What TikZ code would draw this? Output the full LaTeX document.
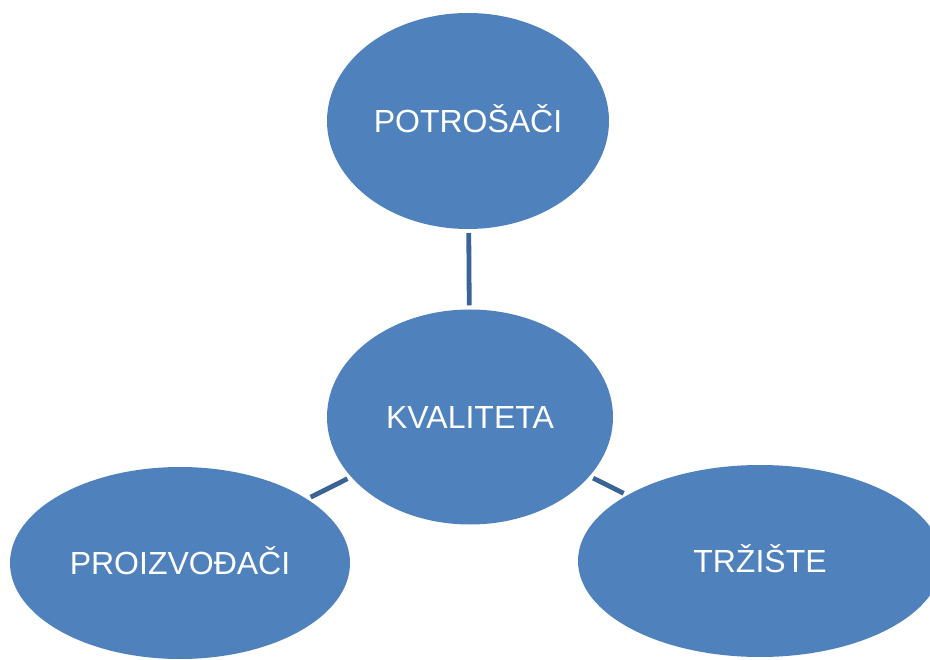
\documentclass[tikz,border=0pt]{standalone}
\usepackage{fontspec}
\setmainfont{Liberation Sans}
\usetikzlibrary{shapes.geometric}
\definecolor{bubblefill}{HTML}{4F81BD}
\definecolor{linkcol}{HTML}{3A6396}
\tikzset{
  bubble/.style={ellipse, fill=bubblefill, draw=none, inner sep=0pt,
    text=white, font=\fontsize{32}{38}\selectfont, text height=22.9pt, text depth=0pt},
  link/.style={draw=linkcol, line width=4.8pt, shorten <=4pt, shorten >=4pt}
}
\begin{document}
\begin{tikzpicture}[x=1pt,y=-1pt]
\useasboundingbox (0,0) rectangle (930,660);
\clip (0,0) rectangle (930,660);
\node[bubble, minimum width=282pt, minimum height=216pt] (pot) at (468,121) {POTROŠAČI};
\node[bubble, minimum width=286pt, minimum height=215pt] (kva) at (470,417) {KVALITETA};
\node[bubble, minimum width=340pt, minimum height=192pt] (pro) at (180,563) {PROIZVOĐAČI};
\node[bubble, minimum width=364pt, minimum height=192pt] (trz) at (760,561) {TRŽIŠTE};
\draw[link] (pot) -- (kva);
\draw[link] (kva) -- (pro);
\draw[link] (kva) -- (trz);
\end{tikzpicture}
\end{document}
